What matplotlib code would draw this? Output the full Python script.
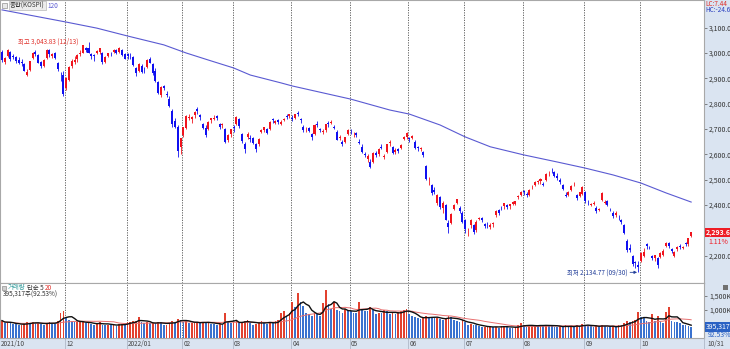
import matplotlib
matplotlib.use("Agg")
import matplotlib.pyplot as plt
from matplotlib.transforms import blended_transform_factory
import numpy as np
import pandas as pd

plt.rcParams['font.family'] = ['Noto Sans CJK KR', 'DejaVu Sans']

# KRX trading calendar (market holidays removed)
holidays = ['2021-12-31', '2022-01-31', '2022-02-01', '2022-02-02', '2022-03-01',
            '2022-03-09', '2022-05-05', '2022-06-01', '2022-06-06', '2022-08-15',
            '2022-09-09', '2022-09-12', '2022-10-03', '2022-10-10']
dates = pd.bdate_range('2021-10-29', '2022-10-31', freq='C', holidays=holidays)

# KOSPI daily OHLC
opens = [3005,
         2965, 2990, 3005, 2988, 2985, 2974, 2965, 2955, 2915, 2932, 2980, 3003, 2993, 2965, 2950, 2980, 3010, 2990, 3000, 2960, 2910, 2915,
         2860, 2895, 2950, 2965, 2975, 2995, 3000, 3020, 3020, 2995, 2990, 3000, 3005, 3000, 2965, 2990, 3000, 3005, 3010, 3005, 3010, 2995,
         2995, 2990, 2985, 2940, 2930, 2950, 2930, 2945, 2975, 2955, 2930, 2885, 2835, 2870, 2840, 2820, 2770, 2730, 2710, 2630,
         2675, 2705, 2745, 2740, 2755, 2780, 2755, 2720, 2705, 2700, 2735, 2740, 2750, 2720, 2715, 2700, 2655, 2680,
         2710, 2720, 2740, 2680, 2640, 2670, 2665, 2665, 2640, 2640, 2690, 2695, 2700, 2700, 2740, 2725, 2735, 2720, 2735, 2750, 2750,
         2745, 2745, 2765, 2740, 2710, 2700, 2705, 2680, 2680, 2720, 2700, 2690, 2695, 2725, 2725, 2710, 2690, 2665, 2650, 2650, 2680,
         2690, 2680, 2685, 2650, 2630, 2600, 2580, 2570, 2570, 2605, 2600, 2630, 2590, 2610, 2645, 2630, 2610, 2620, 2625, 2660, 2670,
         2665, 2665, 2650, 2630, 2620, 2610, 2555, 2490, 2480, 2460, 2410, 2430, 2390, 2400, 2330, 2330, 2385, 2410, 2390, 2370,
         2340, 2300, 2320, 2320, 2300, 2345, 2350, 2325, 2330, 2315, 2325, 2360, 2380, 2390, 2395, 2400, 2395, 2405, 2405, 2430, 2440,
         2455, 2445, 2440, 2470, 2480, 2490, 2495, 2485, 2500, 2525, 2535, 2530, 2515, 2500, 2480, 2440, 2440, 2460, 2480, 2440, 2435, 2445,
         2450, 2410, 2400, 2405, 2390, 2380, 2420, 2410, 2415, 2385, 2370, 2360, 2350, 2340, 2320, 2260, 2230, 2200, 2175, 2165,
         2180, 2200, 2245, 2235, 2200, 2190, 2190, 2195, 2205, 2240, 2250, 2225, 2200, 2225, 2240, 2230, 2250, 2245, 2280]

highs = [3010,
         2985, 3015, 3008, 2995, 2990, 2985, 2975, 2960, 2935, 2970, 3003, 3010, 2997, 2968, 2975, 3015, 3015, 3000, 3005, 2965, 2925, 2930,
         2905, 2948, 2975, 2990, 2995, 3010, 3032, 3025, 3043.83, 3000, 2995, 3010, 3020, 3002, 2990, 3000, 3005, 3015, 3015, 3025, 3015, 3000,
         3000, 3000, 2990, 2945, 2960, 2955, 2945, 2975, 2985, 2960, 2940, 2890, 2870, 2875, 2850, 2830, 2780, 2745, 2715, 2665,
         2710, 2755, 2760, 2750, 2770, 2785, 2760, 2722, 2715, 2730, 2745, 2755, 2755, 2722, 2725, 2705, 2680, 2700,
         2715, 2750, 2745, 2685, 2650, 2690, 2675, 2670, 2645, 2665, 2700, 2710, 2705, 2730, 2745, 2735, 2740, 2735, 2745, 2760, 2760,
         2755, 2760, 2770, 2745, 2715, 2710, 2710, 2685, 2720, 2730, 2705, 2700, 2720, 2730, 2735, 2715, 2695, 2675, 2655, 2670, 2700,
         2700, 2690, 2690, 2660, 2640, 2610, 2600, 2580, 2608, 2615, 2625, 2640, 2600, 2640, 2655, 2635, 2625, 2625, 2640, 2672, 2690,
         2670, 2675, 2655, 2635, 2630, 2615, 2560, 2510, 2485, 2470, 2445, 2435, 2415, 2405, 2340, 2370, 2405, 2425, 2395, 2375,
         2345, 2310, 2345, 2325, 2340, 2355, 2355, 2330, 2335, 2330, 2335, 2380, 2385, 2395, 2410, 2405, 2405, 2415, 2418, 2440, 2455,
         2460, 2450, 2465, 2480, 2495, 2500, 2505, 2490, 2525, 2535, 2546, 2535, 2525, 2505, 2485, 2450, 2455, 2480, 2490, 2445, 2452, 2475,
         2455, 2420, 2410, 2415, 2395, 2390, 2450, 2420, 2420, 2390, 2375, 2375, 2360, 2345, 2325, 2265, 2245, 2205, 2180, 2180,
         2215, 2230, 2250, 2240, 2205, 2205, 2195, 2215, 2225, 2255, 2255, 2230, 2220, 2240, 2245, 2240, 2255, 2270, 2295]

lows = [2965,
        2955, 2985, 2970, 2975, 2962, 2955, 2950, 2927, 2910, 2930, 2978, 2990, 2960, 2940, 2945, 2975, 2985, 2980, 2975, 2930, 2890, 2830,
        2855, 2890, 2940, 2955, 2965, 2990, 2998, 3005, 2998, 2975, 2970, 2995, 2995, 2958, 2960, 2985, 2990, 3000, 2995, 3000, 2990, 2975,
        2975, 2975, 2950, 2910, 2925, 2920, 2920, 2940, 2960, 2915, 2885, 2840, 2825, 2855, 2825, 2785, 2710, 2705, 2591, 2600,
        2670, 2700, 2735, 2725, 2745, 2760, 2735, 2700, 2670, 2695, 2725, 2735, 2735, 2700, 2705, 2645, 2650, 2670,
        2690, 2715, 2705, 2645, 2605, 2660, 2650, 2640, 2610, 2635, 2685, 2690, 2680, 2695, 2725, 2720, 2720, 2715, 2730, 2740, 2745,
        2730, 2740, 2750, 2725, 2690, 2690, 2690, 2655, 2675, 2710, 2690, 2680, 2690, 2710, 2720, 2700, 2655, 2655, 2635, 2645, 2675,
        2680, 2670, 2670, 2640, 2605, 2590, 2570, 2546, 2565, 2590, 2595, 2620, 2580, 2605, 2635, 2600, 2600, 2605, 2620, 2655, 2660,
        2650, 2660, 2620, 2615, 2615, 2590, 2500, 2480, 2440, 2445, 2400, 2385, 2370, 2340, 2291, 2325, 2380, 2405, 2370, 2330,
        2290, 2280, 2310, 2285, 2295, 2340, 2335, 2310, 2310, 2305, 2315, 2355, 2360, 2380, 2385, 2385, 2385, 2400, 2400, 2425, 2435,
        2440, 2430, 2435, 2465, 2475, 2485, 2485, 2475, 2495, 2515, 2525, 2510, 2500, 2485, 2460, 2430, 2435, 2455, 2475, 2420, 2430, 2440,
        2410, 2400, 2395, 2400, 2370, 2375, 2418, 2405, 2395, 2375, 2350, 2355, 2340, 2325, 2285, 2215, 2215, 2160, 2150, 2134.77,
        2175, 2195, 2225, 2225, 2185, 2180, 2150, 2190, 2200, 2235, 2230, 2210, 2195, 2220, 2225, 2225, 2240, 2240, 2275]

closes = [2970.68,
          2978.94, 3013.49, 2975.71, 2983.22, 2969.27, 2960.20, 2962.46, 2930.17, 2924.92, 2968.80, 2999.52, 2997.21, 2962.42, 2947.38, 2971.02, 3013.25, 2997.33, 2994.29, 2980.27, 2936.44, 2909.32, 2839.01,
          2899.72, 2945.27, 2968.33, 2973.25, 2991.72, 3001.80, 3029.57, 3010.23, 3001.66, 2987.95, 2989.39, 3006.41, 3017.73, 2963.00, 2984.48, 2998.17, 2998.32, 3012.43, 2999.55, 3020.24, 2993.29, 2977.65,
          2988.77, 2989.24, 2953.97, 2920.53, 2954.89, 2926.72, 2927.38, 2972.48, 2962.09, 2921.92, 2890.10, 2842.28, 2864.24, 2862.68, 2834.29, 2792.00, 2720.39, 2709.24, 2614.49, 2663.34,
          2707.82, 2750.26, 2745.06, 2746.47, 2768.85, 2771.93, 2747.71, 2704.48, 2676.54, 2729.68, 2744.09, 2744.52, 2743.80, 2706.79, 2719.53, 2648.80, 2676.76, 2699.18,
          2703.52, 2747.08, 2713.43, 2651.31, 2622.40, 2680.32, 2661.28, 2645.65, 2621.53, 2659.23, 2694.51, 2707.62, 2686.05, 2728.21, 2735.02, 2729.98, 2729.66, 2729.56, 2741.07, 2746.74, 2757.65,
          2739.85, 2757.90, 2759.20, 2735.03, 2695.86, 2700.39, 2693.10, 2666.76, 2716.49, 2716.71, 2696.06, 2693.21, 2718.69, 2718.89, 2728.21, 2704.71, 2657.13, 2668.31, 2639.06, 2667.49, 2695.05,
          2687.45, 2680.46, 2677.57, 2644.51, 2610.81, 2596.56, 2592.27, 2550.08, 2604.24, 2596.58, 2620.44, 2625.98, 2592.34, 2639.29, 2647.38, 2605.87, 2617.22, 2612.45, 2638.05, 2669.66, 2685.90,
          2658.99, 2670.65, 2626.15, 2625.44, 2625.98, 2595.87, 2504.51, 2492.97, 2447.38, 2451.41, 2440.93, 2391.03, 2408.93, 2342.81, 2314.32, 2366.60, 2401.92, 2422.09, 2377.99, 2332.64,
          2305.42, 2300.34, 2341.78, 2292.01, 2334.27, 2350.61, 2340.27, 2317.76, 2328.61, 2322.32, 2330.98, 2375.25, 2370.36, 2386.85, 2409.00, 2393.14, 2403.69, 2412.85, 2415.53, 2435.27, 2451.50,
          2452.25, 2439.62, 2461.45, 2473.11, 2490.80, 2493.10, 2503.46, 2480.88, 2523.78, 2527.94, 2533.52, 2516.47, 2508.05, 2492.69, 2462.50, 2435.34, 2450.93, 2477.26, 2481.03, 2426.89, 2450.93, 2472.05,
          2415.61, 2409.41, 2403.68, 2410.02, 2376.46, 2384.28, 2449.54, 2411.42, 2401.83, 2382.78, 2355.66, 2367.85, 2347.21, 2332.31, 2290.00, 2220.94, 2223.86, 2169.29, 2170.93, 2155.49,
          2209.38, 2215.22, 2237.86, 2232.84, 2192.07, 2202.47, 2162.87, 2212.55, 2219.71, 2249.95, 2237.44, 2218.09, 2213.12, 2236.16, 2235.07, 2235.07, 2246.89, 2268.40, 2293.61]

# 거래량 (천주)
volumes = [620000,
           520000, 560000, 540000, 500000, 490000, 470000, 480000, 520000, 560000, 540000, 560000, 520000, 530000, 510000, 480000, 550000, 560000, 540000, 520000, 600000, 880000, 960000,
           700000, 640000, 620000, 560000, 560000, 580000, 600000, 520000, 530000, 500000, 480000, 530000, 560000, 480000, 470000, 480000, 460000, 470000, 430000, 500000, 510000, 480000,
           560000, 580000, 600000, 620000, 750000, 560000, 540000, 560000, 520000, 530000, 520000, 570000, 560000, 480000, 480000, 540000, 620000, 580000, 680000, 660000,
           580000, 620000, 520000, 540000, 560000, 570000, 540000, 560000, 540000, 580000, 510000, 500000, 470000, 500000, 470000, 890000, 560000, 540000,
           560000, 600000, 520000, 560000, 620000, 640000, 520000, 480000, 500000, 560000, 620000, 540000, 490000, 560000, 520000, 600000, 650000, 880000, 960000, 800000, 900000,
           1300000, 1100000, 1600000, 1280000, 1150000, 900000, 850000, 800000, 900000, 850000, 800000, 1250000, 1700000, 1200000, 1050000, 1280000, 1000000, 950000, 900000, 1050000, 1000000,
           950000, 900000, 880000, 1280000, 1050000, 980000, 950000, 1100000, 1000000, 850000, 900000, 880000, 1000000, 950000, 850000, 900000, 870000, 920000, 960000, 1000000, 1050000,
           850000, 780000, 760000, 700000, 680000, 700000, 800000, 760000, 740000, 700000, 720000, 690000, 650000, 680000, 800000, 760000, 640000, 600000, 580000, 640000,
           560000, 480000, 500000, 480000, 460000, 430000, 380000, 390000, 400000, 420000, 380000, 400000, 370000, 430000, 440000, 380000, 360000, 350000, 390000, 460000, 520000,
           450000, 400000, 420000, 460000, 480000, 430000, 440000, 420000, 480000, 470000, 430000, 410000, 400000, 420000, 380000, 460000, 400000, 420000, 380000, 470000, 420000, 500000,
           480000, 430000, 420000, 390000, 450000, 400000, 480000, 420000, 400000, 390000, 420000, 380000, 460000, 480000, 520000, 600000, 560000, 620000, 640000, 930000,
           760000, 700000, 620000, 560000, 860000, 600000, 790000, 600000, 550000, 930000, 1100000, 600000, 580000, 560000, 520000, 480000, 460000, 427231, 395317]

# 120일 이동평균선
ma120_dates = ['2021-10-29', '2021-11-15', '2021-12-01', '2021-12-16', '2022-01-03', '2022-01-20',
               '2022-02-04', '2022-02-16', '2022-03-02', '2022-03-11', '2022-03-28', '2022-04-01',
               '2022-05-02', '2022-05-23', '2022-06-02', '2022-06-20', '2022-07-01', '2022-07-14',
               '2022-08-01', '2022-08-18', '2022-09-01', '2022-09-19', '2022-10-04', '2022-10-18',
               '2022-10-31']
ma120_vals = [3170, 3147, 3122, 3098, 3067, 3032, 3000, 2972, 2941, 2913, 2882, 2870,
              2818, 2775, 2759, 2716, 2669, 2630, 2598, 2570, 2546, 2519, 2487, 2448, 2412]

RED = '#f0141e'
BLUE = '#1010f0'
VRED = '#e2412f'
VBLUE = '#3a72cf'
W, H = 730, 349
FS = 4.6

o = np.array(opens, float)
h = np.array(highs, float)
l = np.array(lows, float)
c = np.array(closes, float)
v = np.array(volumes, float)
x = np.arange(len(dates))

fig = plt.figure(figsize=(W / 100, H / 100), dpi=100, facecolor='#dae4f1')


def px_axes(x0, y0, x1, y1):
    return fig.add_axes([x0 / W, 1 - y1 / H, (x1 - x0) / W, (y1 - y0) / H])


ax = px_axes(0, 0, 704, 283)
axv = px_axes(0, 283, 704, 338)
for a in (ax, axv):
    a.set_facecolor('white')
    a.set_xlim(-0.72, 251.6)
    a.set_xticks([])
    for s in a.spines.values():
        s.set_color('#a8a8a8')
        s.set_linewidth(0.8)

# candles
up = c >= o
ccol = np.where(up, RED, BLUE)
ax.vlines(x, l, h, colors=ccol, lw=0.6, zorder=3)
ax.bar(x, np.maximum(np.abs(c - o), 0.8), bottom=np.minimum(o, c), width=0.72,
       color=ccol, linewidth=0, zorder=4)

# 120 MA
ma_x = [dates.get_loc(pd.Timestamp(d)) for d in ma120_dates]
ax.plot(ma_x, ma120_vals, color='#5a5ad2', lw=0.8, zorder=2)

ax.set_ylim(2092.7, 3209)
ax.yaxis.tick_right()
pticks = [2200] + list(range(2400, 3101, 100))
ax.set_yticks(pticks)
ax.set_yticklabels([f'{t:,.2f}' for t in pticks])
ax.tick_params(axis='y', length=2.5, width=0.5, color='#555555', labelsize=5,
               pad=1.2, labelcolor='#333333')

# volume
vchg = np.r_[True, v[1:] >= v[:-1]]
axv.bar(x, v, width=0.62, color=np.where(vchg, VRED, VBLUE), linewidth=0, zorder=3)
vs = pd.Series(v)
axv.plot(x, vs.rolling(20, min_periods=1).mean(), color='#e87070', lw=0.7, zorder=4)
axv.plot(x, vs.rolling(5, min_periods=1).mean(), color='#111111', lw=1.0, zorder=5)
axv.set_ylim(0, 1964000)
axv.yaxis.tick_right()
axv.set_yticks([500000, 1000000, 1500000])
axv.set_yticklabels(['500,000', '1,000K', '1,500K'])
axv.tick_params(axis='y', length=2.5, width=0.5, color='#555555', labelsize=5,
                pad=1.2, labelcolor='#333333')

# month separators and date labels
months = [i for i in range(1, len(dates)) if dates[i].month != dates[i - 1].month and i > 5]
for a in (ax, axv):
    for i in months:
        a.axvline(i - 0.35, color='#505050', lw=0.6, ls=(0, (1.5, 1.5)), zorder=1)

btr = blended_transform_factory(axv.transData, fig.transFigure)
ybase = 1 - 344 / H
for i in [0] + months:
    d = dates[i]
    lab = f'{d.year}/{d.month:02d}' if (i == 0 or d.month == 1) else f'{d.month:02d}'
    axv.text(i + 0.1 if i else -0.3, ybase, lab, transform=btr, fontsize=FS,
             color='#444444', ha='left', va='center', clip_on=False)
    if i:
        axv.plot([i - 0.35, i - 0.35], [0, 11 / H], transform=btr, color='#b0b8c8',
                 lw=0.6, clip_on=False)
fig.text(707 / W, ybase, f'{dates[-1].month}/{dates[-1].day}', fontsize=FS,
         color='#444444', ha='left', va='center')
fig.add_artist(plt.Line2D([704 / W, 704 / W], [0, 11 / H], color='#b0b8c8', lw=0.6))

# high / low marks
hi_i = int(np.argmax(h))
lo_i = int(np.argmin(l))
ax.annotate(f'최고 {h[hi_i]:,.2f} ({dates[hi_i]:%m/%d})', xy=(hi_i, h[hi_i]),
            xytext=(-7.5, 0), textcoords='offset points', ha='right', va='center',
            fontsize=FS, color='#e0302a')
ax.annotate(f'최저 {l[lo_i]:,.2f} ({dates[lo_i]:%m/%d})', xy=(lo_i - 0.4, l[lo_i]),
            xytext=(-7, 0), textcoords='offset points', ha='right', va='center',
            fontsize=FS, color='#24409a',
            arrowprops=dict(arrowstyle='-|>', color='#24409a', lw=0.6,
                            mutation_scale=4, shrinkA=0, shrinkB=0))

# last price / volume tags
pct = (c[-1] / c[-2] - 1) * 100
ytr = ax.get_yaxis_transform()
ax.text(1.003, c[-1], f'{c[-1]:,.2f}', transform=ytr, fontsize=5, color='white',
        ha='left', va='center', fontweight='bold',
        bbox=dict(boxstyle='square,pad=0.15', fc='#ee1c25', ec='none'), clip_on=False)
ax.annotate(f'{pct:.2f}%', xy=(1.003, c[-1]), xycoords=ytr, xytext=(1.5, -7),
            textcoords='offset points', fontsize=5, color='#ee1c25', ha='left', va='center')

vpct = v[-1] / v[-2] * 100
vtr = axv.get_yaxis_transform()
axv.text(1.003, v[-1], f'{int(v[-1]):,}', transform=vtr, fontsize=5, color='white',
         ha='left', va='center',
         bbox=dict(boxstyle='square,pad=0.15', fc='#2a62c4', ec='none'), clip_on=False)
axv.annotate(f'{vpct:.2f}%', xy=(1.003, v[-1]), xycoords=vtr, xytext=(1.5, -5.5),
             textcoords='offset points', fontsize=5, color='#2a62c4', ha='left', va='center')


# panel headers
def px_text(px, py, s, **kw):
    fig.text(px / W, 1 - py / H, s, fontsize=FS, va='center', ha='left', **kw)


fig.patches.append(plt.Rectangle((2 / W, 1 - 8 / H), 5 / W, 5 / H, transform=fig.transFigure,
                                 fc='#e8e8e8', ec='#909090', lw=0.5))
px_text(10, 5.5, '종합(KOSPI)', color='#333333',
        bbox=dict(boxstyle='square,pad=0.15', fc='#ececec', ec='#b8b8b8', lw=0.5))
px_text(47, 5.5, '120', color='#5a5ad2')
px_text(705, 3.5, 'LC:7.44', color='#e0302a')
px_text(705, 10, 'HC:-24.69', color='#2a3fc0')

fig.patches.append(plt.Rectangle((2 / W, 1 - 290 / H), 4 / W, 4 / H, transform=fig.transFigure,
                                 fc='#d0d0d0', ec='#909090', lw=0.5))
px_text(8, 287.5, '거래량', color='#2f9a9a')
px_text(27, 287.5, '단순 5', color='#333333')
px_text(45, 287.5, '20', color='#e0302a')
px_text(3, 295, f'{int(v[-1]):,}주({vpct:.2f}%)', color='#333333')
fig.patches.append(plt.Rectangle((723 / W, 1 - 290 / H), 5 / W, 5 / H, transform=fig.transFigure,
                                 fc='#707070', ec='none'))

fig.savefig('out.png', dpi=100, facecolor=fig.get_facecolor())
